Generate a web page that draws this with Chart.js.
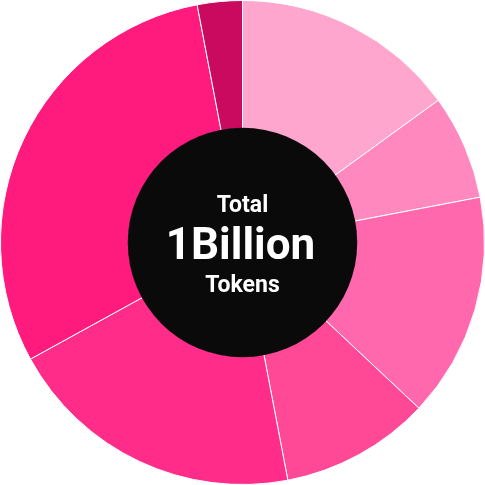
<!DOCTYPE html>
<html>
<head>
<meta charset="utf-8">
<script src="https://cdn.jsdelivr.net/npm/chart.js@4"></script>
<style>
    html, body { margin: 0; padding: 0; background: #fff; }
    #wrap { width: 485px; height: 485px; }
</style>
</head>
<body>
<div id="wrap"><canvas id="token-chart"></canvas></div>
<script>
// Token allocation shares (percent), clockwise from 12 o'clock
const labels = ['Slice 1', 'Slice 2', 'Slice 3', 'Slice 4', 'Slice 5', 'Slice 6', 'Slice 7'];
const shares = [15, 7, 15, 10, 20, 30, 3];
const colors = ['#FFA6CE', '#FF88BF', '#FF68AD', '#FF4896', '#FF2D89', '#FF1A7D', '#C90A5E'];
const centerLines = ['Total', '1Billion', 'Tokens'];

// black disc + caption in the hole
const centerLabel = {
    id: 'centerLabel',
    afterDatasetsDraw(chart) {
        const meta = chart.getDatasetMeta(0);
        const arc = meta.data[0];
        if (!arc) return;
        const { x, y, innerRadius } = arc.getProps(['x', 'y', 'innerRadius'], true);
        const ctx = chart.ctx;
        ctx.save();
        ctx.beginPath();
        ctx.arc(x, y, innerRadius + 1, 0, Math.PI * 2);
        ctx.fillStyle = '#0a0a0a';
        ctx.fill();

        ctx.fillStyle = '#fff';
        ctx.textAlign = 'center';
        ctx.textBaseline = 'alphabetic';
        ctx.font = 'bold 23px Roboto';
        ctx.fillText(centerLines[0], x, y - 31);
        ctx.font = 'bold 44px Roboto';
        ctx.fillText(centerLines[1], x - 2, y + 16);
        ctx.font = 'bold 23px Roboto';
        ctx.fillText(centerLines[2], x, y + 49);
        ctx.restore();
    }
};

new Chart(document.getElementById('token-chart'), {
    type: 'doughnut',
    data: {
        labels: labels,
        datasets: [{
            data: shares,
            backgroundColor: colors,
            borderColor: '#fff',
            borderWidth: 1
        }]
    },
    options: {
        responsive: true,
        maintainAspectRatio: false,
        animation: false,
        cutout: '47%',
        layout: { padding: 0 },
        plugins: {
            legend: { display: false },
            tooltip: { enabled: false }
        }
    },
    plugins: [centerLabel]
});
</script>
</body>
</html>
